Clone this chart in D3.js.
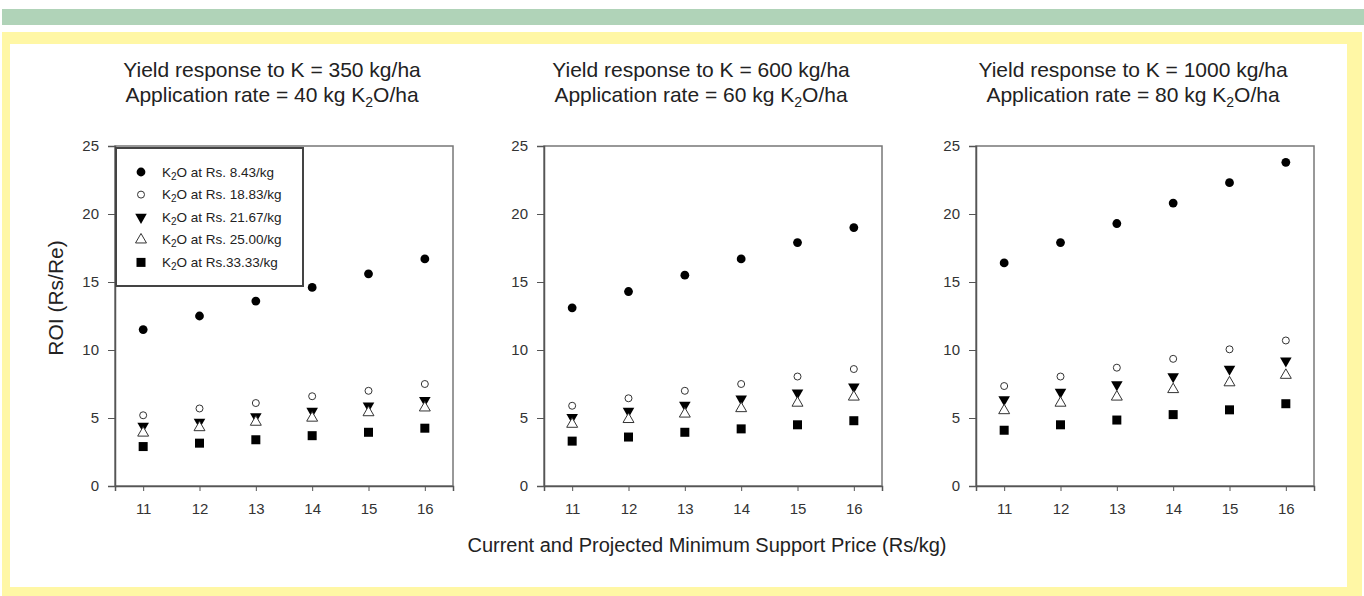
<!DOCTYPE html>
<html>
<head>
<meta charset="utf-8">
<script src="https://cdn.jsdelivr.net/npm/d3@7"></script>
<style>
  body { margin: 0; background: #fff; }
  svg { display: block; font-family: "Liberation Sans", Arial, sans-serif; }
</style>
</head>
<body>
<svg width="1364" height="596"></svg>
<script>
let width = 1364, height = 596;

let prices = [11, 12, 13, 14, 15, 16];
let yTicks = [0, 5, 10, 15, 20, 25];
let seriesNames = ['K2O at Rs. 8.43/kg', 'K2O at Rs. 18.83/kg', 'K2O at Rs. 21.67/kg', 'K2O at Rs. 25.00/kg', 'K2O at Rs.33.33/kg'];
let seriesSymbols = ['circleFill', 'circleOpen', 'triDown', 'triUp', 'square'];

let yieldResponse = [350, 600, 1000];
let appRate = [40, 60, 80];

// ROI values per panel, per series (order as seriesNames)
let roi350 = [
  [11.5, 12.5, 13.6, 14.6, 15.6, 16.7],
  [5.2, 5.7, 6.1, 6.6, 7.0, 7.5],
  [4.4, 4.7, 5.1, 5.5, 5.9, 6.3],
  [3.9, 4.3, 4.7, 5.0, 5.4, 5.75],
  [2.9, 3.15, 3.4, 3.7, 3.95, 4.25]
];
let roi600 = [
  [13.1, 14.3, 15.5, 16.7, 17.9, 19.0],
  [5.9, 6.45, 7.0, 7.5, 8.05, 8.6],
  [5.05, 5.5, 5.95, 6.4, 6.85, 7.3],
  [4.55, 4.9, 5.3, 5.7, 6.1, 6.55],
  [3.3, 3.6, 3.95, 4.2, 4.5, 4.8]
];
let roi1000 = [
  [16.4, 17.9, 19.3, 20.8, 22.3, 23.8],
  [7.35, 8.05, 8.7, 9.35, 10.05, 10.7],
  [6.35, 6.9, 7.45, 8.05, 8.6, 9.2],
  [5.55, 6.1, 6.55, 7.1, 7.6, 8.15],
  [4.1, 4.5, 4.85, 5.25, 5.6, 6.05]
];
let panelData = [roi350, roi600, roi1000];

let svg = d3.select('svg');

// decorative background
svg.append('rect').attr('x', 2).attr('y', 9).attr('width', 1362).attr('height', 16).attr('fill', '#b0d3b8');
svg.append('rect').attr('x', 2).attr('y', 32).attr('width', 1360).attr('height', 564).attr('fill', '#fff7a5');
svg.append('rect').attr('x', 10).attr('y', 44).attr('width', 1337).attr('height', 543).attr('fill', '#ffffff');

let panelLeft = [115, 544, 976];
let plotW = 338, plotTop = 146, plotBottom = 486;
let axisColor = '#555';
let textColor = '#222';

function drawSymbol(g, type, x, y) {
  if (type === 'circleFill') {
    g.append('circle').attr('cx', x).attr('cy', y).attr('r', 4.4).attr('fill', '#000');
  } else if (type === 'circleOpen') {
    g.append('circle').attr('cx', x).attr('cy', y).attr('r', 3.5).attr('fill', '#fff').attr('stroke', '#333').attr('stroke-width', 1);
  } else if (type === 'triDown') {
    g.append('path').attr('d', d3.symbol().type(d3.symbolTriangle).size(58)()).attr('transform', 'translate(' + x + ',' + y + ') rotate(180)').attr('fill', '#000');
  } else if (type === 'triUp') {
    g.append('path').attr('d', d3.symbol().type(d3.symbolTriangle).size(52)()).attr('transform', 'translate(' + x + ',' + y + ')').attr('fill', '#fff').attr('stroke', '#333').attr('stroke-width', 1);
  } else {
    g.append('rect').attr('x', x - 4.5).attr('y', y - 4.5).attr('width', 9).attr('height', 9).attr('fill', '#000');
  }
}

panelData.forEach(function(series, p) {
  let x = d3.scaleLinear().domain([10.5, 16.5]).range([panelLeft[p], panelLeft[p] + plotW]);
  let y = d3.scaleLinear().domain([0, 25]).range([plotBottom, plotTop]);
  let g = svg.append('g');

  // frame
  g.append('rect')
    .attr('x', x.range()[0]).attr('y', plotTop)
    .attr('width', plotW).attr('height', plotBottom - plotTop)
    .attr('fill', 'none').attr('stroke', '#777').attr('stroke-width', 1.5);

  let xAxis = g.append('g').attr('transform', 'translate(0,' + plotBottom + ')')
    .call(d3.axisBottom(x).tickValues(prices).tickFormat(d3.format('d')).tickSize(5).tickPadding(12));
  let yAxis = g.append('g').attr('transform', 'translate(' + x.range()[0] + ',0)')
    .call(d3.axisLeft(y).tickValues(yTicks).tickSize(7).tickPadding(9));
  [xAxis, yAxis].forEach(function(a) {
    a.select('.domain').attr('stroke', axisColor).attr('stroke-width', 1.5);
    a.selectAll('.tick line').attr('stroke', axisColor);
    a.selectAll('.tick text').attr('fill', '#333').style('font-size', '15px');
  });

  // title
  let tx = x.range()[0] + plotW / 2 - 12;
  g.append('text').attr('x', tx).attr('y', 77).attr('text-anchor', 'middle')
    .attr('fill', textColor).style('font-size', '21px')
    .text('Yield response to K = ' + yieldResponse[p] + ' kg/ha');
  let t2 = g.append('text').attr('x', tx).attr('y', 102).attr('text-anchor', 'middle')
    .attr('fill', textColor).style('font-size', '21px');
  t2.append('tspan').text('Application rate = ' + appRate[p] + ' kg K');
  t2.append('tspan').attr('dy', 5).style('font-size', '14px').text('2');
  t2.append('tspan').attr('dy', -5).text('O/ha');

  // points
  series.forEach(function(vals, s) {
    vals.forEach(function(v, i) {
      drawSymbol(g, seriesSymbols[s], x(prices[i]), y(v));
    });
  });
});

// legend
let leg = svg.append('g');
leg.append('rect').attr('x', 116).attr('y', 148).attr('width', 187).attr('height', 138)
  .attr('fill', '#fff').attr('stroke', '#444').attr('stroke-width', 2);
seriesNames.forEach(function(name, s) {
  let ly = 172 + s * 22.6;
  drawSymbol(leg, seriesSymbols[s], 141, ly);
  let t = leg.append('text').attr('x', 162).attr('y', ly + 4.5).attr('fill', textColor).style('font-size', '13.5px');
  let rest = name.slice(3);
  t.append('tspan').text('K');
  t.append('tspan').attr('dy', 3).style('font-size', '10px').text('2');
  t.append('tspan').attr('dy', -3).text('O' + rest);
});

// axis labels
svg.append('text').attr('transform', 'translate(63,298) rotate(-90)').attr('text-anchor', 'middle')
  .attr('fill', textColor).style('font-size', '21px').text('ROI (Rs/Re)');
svg.append('text').attr('x', 707).attr('y', 552).attr('text-anchor', 'middle')
  .attr('fill', textColor).style('font-size', '20px').text('Current and Projected Minimum Support Price (Rs/kg)');
</script>
</body>
</html>
